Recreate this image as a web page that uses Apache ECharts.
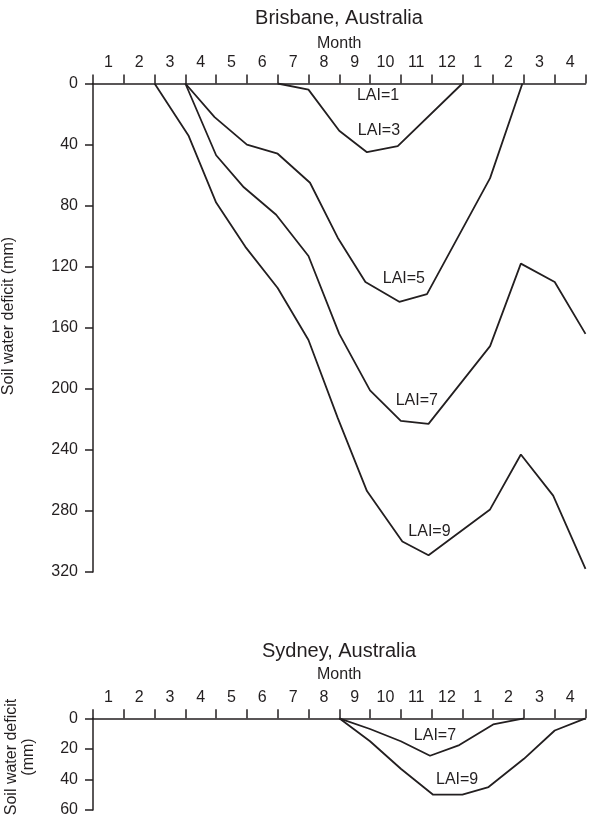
<!DOCTYPE html>
<html>
<head>
<meta charset="utf-8">
<script src="https://cdn.jsdelivr.net/npm/echarts/dist/echarts.min.js"></script>
<style>
  html, body { margin: 0; padding: 0; background: #fff; }
  #chart { width: 589px; height: 825px; }
</style>
</head>
<body>
<div id="chart"></div>
<script>
// month labels along the top axis (Jan .. Dec, then Jan .. Apr)
const months = ['1', '2', '3', '4', '5', '6', '7', '8', '9', '10', '11', '12', '1', '2', '3', '4'];

// Brisbane: [month boundary, soil water deficit mm]
const brisLai3 = [[6, 0], [7, 4], [8, 31], [8.9, 45], [9.9, 41], [12, 0]];
const brisLai5 = [[3, 0], [3.95, 22], [5, 40], [6, 46], [7.05, 65], [7.95, 101], [8.85, 130], [9.95, 143], [10.85, 138], [12.9, 62], [13.95, 0]];
const brisLai7 = [[3, 0], [4, 47], [4.9, 68], [5.95, 86], [7, 113], [8, 164], [9, 201], [10, 221], [10.9, 223], [12.9, 172], [13.9, 118], [15, 130], [16, 164]];
const brisLai9 = [[2, 0], [3.1, 34], [4, 78], [4.95, 107], [6, 134], [7, 168], [7.95, 219], [8.9, 267], [10.05, 300], [10.9, 309], [12.9, 279], [13.9, 243], [14.95, 270], [16, 318]];

// Sydney
const sydLai7 = [[8, 0], [9, 7], [10, 15], [10.95, 24.5], [11.9, 17.5], [13, 4], [14, 0]];
const sydLai9 = [[8, 0], [9, 15], [10, 33], [11.05, 50], [12, 50], [12.85, 45], [14, 26.5], [15, 8], [16, 0]];

// curve labels (annotation anchors)
const brisLabels = [['LAI=1', 9.26, 7.7], ['LAI=3', 9.29, 31], ['LAI=5', 10.1, 128], ['LAI=7', 10.52, 208], ['LAI=9', 10.93, 293.6]];
const sydLabels = [['LAI=7', 11.11, 11.6], ['LAI=9', 11.83, 40]];

const ink = '#231f20';
const font = 'Liberation Sans, Arial, Helvetica, sans-serif';

const chart = echarts.init(document.getElementById('chart'));

function monthAxis(grid, gap) {
  return {
    gridIndex: grid,
    type: 'category',
    data: months,
    position: 'top',
    boundaryGap: true,
    name: 'Month',
    nameLocation: 'middle',
    nameGap: gap,
    nameMoveOverlap: false,
    nameTextStyle: { color: ink, fontSize: 16, fontFamily: font },
    axisLine: { show: true, onZero: false, lineStyle: { color: ink, width: 1.5 } },
    axisTick: { show: true, inside: false, length: 9, interval: 0, lineStyle: { color: ink, width: 1.5 } },
    axisLabel: { interval: 0, margin: 13, color: ink, fontSize: 16, fontFamily: font },
    splitLine: { show: false }
  };
}

function deficitAxis(grid, max, step) {
  return {
    gridIndex: grid,
    type: 'value',
    inverse: true,
    min: 0,
    max: max,
    interval: step,
    axisLine: { show: true, onZero: false, lineStyle: { color: ink, width: 1.5 } },
    axisTick: { show: true, length: 8, lineStyle: { color: ink, width: 1.5 } },
    axisLabel: { margin: 15, color: ink, fontSize: 16, fontFamily: font },
    splitLine: { show: false }
  };
}

function curve(xi, yi, data) {
  return {
    type: 'line',
    xAxisIndex: xi,
    yAxisIndex: yi,
    data: data,
    symbol: 'none',
    silent: true,
    lineStyle: { color: ink, width: 1.8 }
  };
}

function labels(xi, yi, list) {
  return {
    type: 'scatter',
    xAxisIndex: xi,
    yAxisIndex: yi,
    symbolSize: 0,
    silent: true,
    itemStyle: { opacity: 1 },
    data: list.map(l => ({ name: l[0], value: [l[1], l[2]] })),
    label: {
      show: true,
      position: 'inside',
      formatter: '{b}',
      color: ink,
      opacity: 1,
      fontSize: 16,
      fontFamily: font
    }
  };
}

const option = {
  animation: false,
  backgroundColor: '#fff',
  title: [
    {
      text: 'Brisbane, Australia',
      left: 339, top: 8, textAlign: 'center', padding: 0,
      textStyle: { color: ink, fontSize: 20, fontWeight: 'normal', fontFamily: font }
    },
    {
      text: 'Sydney, Australia',
      left: 339, top: 641, textAlign: 'center', padding: 0,
      textStyle: { color: ink, fontSize: 20, fontWeight: 'normal', fontFamily: font }
    }
  ],
  grid: [
    { left: 93, right: 3.5, top: 83.5, height: 488.5 },
    { left: 93, right: 3.5, top: 718.3, height: 91.7 }
  ],
  xAxis: [
    monthAxis(0, 32),
    { gridIndex: 0, type: 'value', min: 0, max: 16, show: false },
    monthAxis(1, 36),
    { gridIndex: 1, type: 'value', min: 0, max: 16, show: false }
  ],
  yAxis: [
    deficitAxis(0, 320, 40),
    deficitAxis(1, 60, 20)
  ],
  graphic: [
    {
      type: 'text', x: 9, y: 316, rotation: Math.PI / 2,
      style: { text: 'Soil water deficit (mm)', fill: ink, font: '16px ' + font, textAlign: 'center', textVerticalAlign: 'middle' }
    },
    {
      type: 'text', x: 12, y: 757, rotation: Math.PI / 2,
      style: { text: 'Soil water deficit', fill: ink, font: '16px ' + font, textAlign: 'center', textVerticalAlign: 'middle' }
    },
    {
      type: 'text', x: 29, y: 757, rotation: Math.PI / 2,
      style: { text: '(mm)', fill: ink, font: '16px ' + font, textAlign: 'center', textVerticalAlign: 'middle' }
    }
  ],
  series: [
    curve(1, 0, brisLai3),
    curve(1, 0, brisLai5),
    curve(1, 0, brisLai7),
    curve(1, 0, brisLai9),
    labels(1, 0, brisLabels),
    curve(3, 1, sydLai7),
    curve(3, 1, sydLai9),
    labels(3, 1, sydLabels)
  ]
};

chart.setOption(option);
</script>
</body>
</html>
